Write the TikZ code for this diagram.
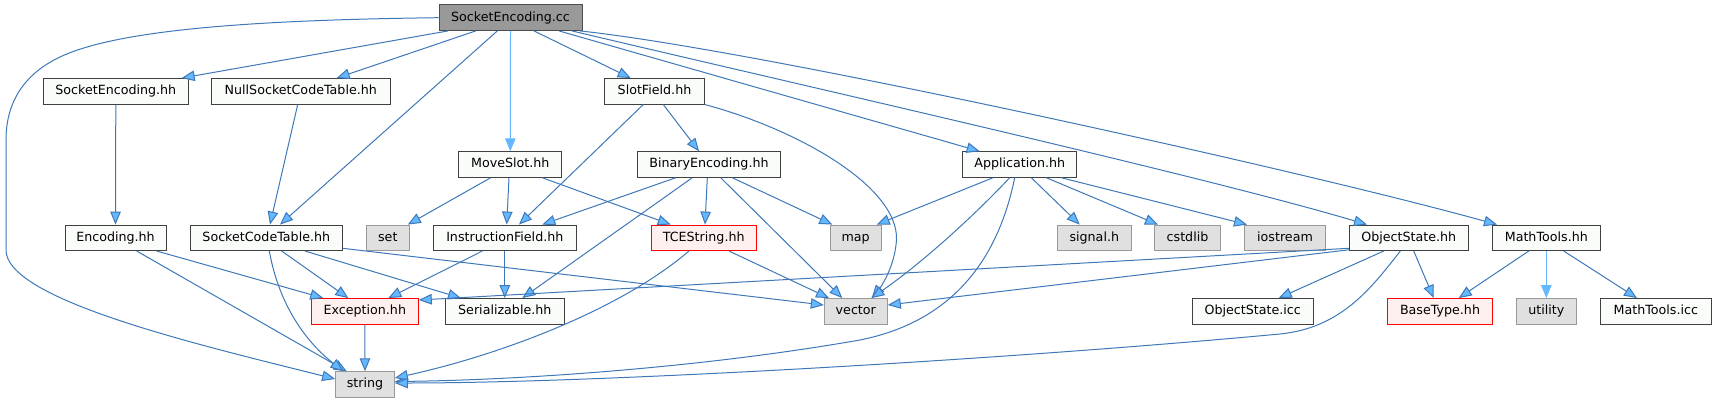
\documentclass[tikz,border=0pt]{standalone}
\usepackage{fontspec}
\setmainfont{DejaVu Sans}
\usetikzlibrary{arrows.meta,calc}
\definecolor{edgec}{HTML}{3F78B8}
\definecolor{arrowf}{HTML}{63B8FF}
\definecolor{nodef}{HTML}{FAFCFA}
\definecolor{nodeb}{HTML}{404040}
\definecolor{rootf}{HTML}{999999}
\definecolor{rootb}{HTML}{4D4D4D}
\definecolor{sysf}{HTML}{E0E0E0}
\definecolor{sysb}{HTML}{999999}
\definecolor{hotf}{HTML}{FFF0F0}
\definecolor{hotb}{HTML}{FF0000}
\tikzset{
  nb/.style={draw=nodeb, fill=nodef, line width=0.75pt, minimum height=19.1pt,
    inner sep=0pt, text height=7.2pt, text depth=2.2pt,
    font=\fontsize{9.5}{11}\selectfont, text=black},
  bw/.style={minimum width=#1*0.75pt},
  root/.style={nb, fill=rootf, draw=rootb},
  sys/.style={nb, fill=sysf, draw=sysb},
  hot/.style={nb, fill=hotf, draw=hotb},
  dep/.style={draw=edgec, line width=0.75pt,
    -{Triangle[length=9.75pt,width=7.9pt,fill=arrowf]}},
}
\newcommand\sedge[5][]{\draw[dep,#1] ($(#2.south)+(#3,0)$) -- ($(#4.north)+(#5,0)$);}
\begin{document}
\begin{tikzpicture}[x=0.75pt,y=-0.75pt]
\fill[white] (0,0) rectangle (1716,403);
\useasboundingbox (0,0) rectangle (1716,403);
% row 1
\node[root, bw=143] (cc) at (510.5,17.7) {SocketEncoding.cc};
% row 2
\node[nb, bw=145] (seh) at (115.8,91.3) {SocketEncoding.hh};
\node[nb, bw=179] (nsct) at (300.8,91.3) {NullSocketCodeTable.hh};
\node[nb, bw=99.7] (slot) at (654.5,91.3) {SlotField.hh};
% row 3
\node[nb, bw=103.3] (move) at (510.3,164.5) {MoveSlot.hh};
\node[nb, bw=142.7] (bin) at (709,164.5) {BinaryEncoding.hh};
\node[nb, bw=114.3] (app) at (1019.8,164.5) {Application.hh};
% row 4
\node[nb, bw=101] (enc) at (115.5,237.8) {Encoding.hh};
\node[nb, bw=152] (sct) at (266.3,237.8) {SocketCodeTable.hh};
\node[sys, bw=43] (set) at (387.8,237.8) {set};
\node[nb, bw=143] (ifld) at (504.8,237.8) {InstructionField.hh};
\node[hot, bw=104.7] (tce) at (703.7,237.8) {TCEString.hh};
\node[sys, bw=50.7] (map) at (855.7,237.8) {map};
\node[sys, bw=74] (sig) at (1094.3,237.8) {signal.h};
\node[sys, bw=65.7] (cstd) at (1187.5,237.8) {cstdlib};
\node[sys, bw=80.7] (ios) at (1285,237.8) {iostream};
\node[nb, bw=119] (os) at (1408.8,237.8) {ObjectState.hh};
\node[nb, bw=108] (mt) at (1546.3,237.8) {MathTools.hh};
% row 5
\node[hot, bw=107] (exc) at (364.8,311.3) {Exception.hh};
\node[nb, bw=119] (ser) at (504.8,311.3) {Serializable.hh};
\node[sys, bw=63] (vec) at (855.8,311.3) {vector};
\node[nb, bw=120.7] (osi) at (1252.7,311.3) {ObjectState.icc};
\node[hot, bw=104.7] (bt) at (1440,311.3) {BaseType.hh};
\node[sys, bw=60] (util) at (1546.3,311.3) {utility};
\node[nb, bw=111] (mti) at (1655.8,311.3) {MathTools.icc};
% row 6
\node[sys, bw=58.7] (str) at (365,384.5) {string};

% edges from SocketEncoding.cc
\draw[dep] (cc.west) .. controls (250,20) and (117,30) .. (60,57)
  .. controls (31.5,70.5) and (6,95) .. (6,140) -- (6,250)
  .. controls (6,300) and (200,345) .. ($(str.west)+(0,-5.5)$);
\sedge{cc}{-62.5}{seh}{65.9}
\sedge{cc}{-34.8}{nsct}{35.9}
\sedge{cc}{-13.2}{sct}{13.7}
\sedge[draw=arrowf]{cc}{0}{move}{0}
\sedge{cc}{23.5}{slot}{-23.8}
\sedge{cc}{48.5}{app}{-40.1}
\draw[dep] ($(cc.south)+(61.5,0)$) .. controls (800,85) and (1200,175) .. ($(os.north)+(-41.8,0)$);
\draw[dep] ($(cc.south)+(69.5,0)$) .. controls (760,50) and (1300,170) .. ($(mt.north)+(-49.3,0)$);
% second level
\sedge{seh}{0}{enc}{0}
\sedge{nsct}{-3.1}{sct}{3.7}
\sedge{slot}{-11.2}{ifld}{14.2}
\sedge{slot}{8.8}{bin}{-10}
\draw[dep] (slot.south east) .. controls (800,130) and (905,190) .. (896,245)
  .. controls (893,270) and (880,288) .. ($(vec.north)+(16,0)$);
% third level
\sedge{move}{-19.6}{set}{20}
\sedge{move}{-1.3}{ifld}{1.9}
\sedge{move}{32}{tce}{-33}
\sedge{bin}{-33.3}{ifld}{37.5}
\sedge{bin}{-16.7}{ser}{17.5}
\sedge{bin}{-1.7}{tce}{1.3}
\sedge{bin}{11.7}{vec}{-13.5}
\sedge{bin}{23.3}{map}{-23.4}
\sedge{app}{-26.8}{map}{21}
\draw[dep] ($(app.south)+(-10.1,0)$) .. controls (965,225) and (915,268) .. ($(vec.north)+(15.5,0)$);
\draw[dep] ($(app.south)+(-5.1,0)$) .. controls (1000,250) and (960,320) .. (860,340)
  .. controls (700,368) and (520,380) .. ($(str.east)+(0,-3)$);
\sedge{app}{11.5}{sig}{-14.6}
\sedge{app}{26.5}{cstd}{-29.5}
\sedge{app}{41.5}{ios}{-38}
% fourth level
\sedge{enc}{41.2}{exc}{-41.5}
\sedge{enc}{21.2}{str}{-18.3}
\sedge{sct}{15.4}{exc}{-16.5}
\draw[dep] ($(sct.south)+(3,0)$) .. controls (280,310) and (310,345) .. ($(str.north)+(-21.7,0)$);
\sedge{sct}{38.7}{ser}{-43.8}
\draw[dep] ($(sct.east)+(0,10.5)$) -- ($(vec.west)+(0,-6.3)$);
\sedge{ifld}{-22.5}{exc}{23.5}
\sedge{ifld}{0}{ser}{0}
\sedge{tce}{25.3}{vec}{-26.8}
\draw[dep] ($(tce.south)+(-14.7,0)$) .. controls (620,310) and (500,355) .. ($(str.east)+(0,-6.5)$);
\draw[dep] ($(os.west)+(0,10.5)$) -- ($(exc.east)+(0,-11.3)$);
\draw[dep] ($(os.west)+(0,12)$) -- ($(vec.east)+(0,-6.3)$);
\draw[dep] ($(os.south)+(-8.5,0)$) .. controls (1370,290) and (1340,328) .. (1280,334)
  .. controls (1000,360) and (600,383) .. ($(str.east)+(0,-1.5)$);
\sedge{os}{-25.1}{osi}{26}
\sedge{os}{4.9}{bt}{-6.3}
\sedge{mt}{-17.6}{bt}{18.7}
\sedge[draw=arrowf]{mt}{0}{util}{0}
\sedge{mt}{17.4}{mti}{-18.8}
% fifth level
\sedge{exc}{0}{str}{0}
\end{tikzpicture}
\end{document}
